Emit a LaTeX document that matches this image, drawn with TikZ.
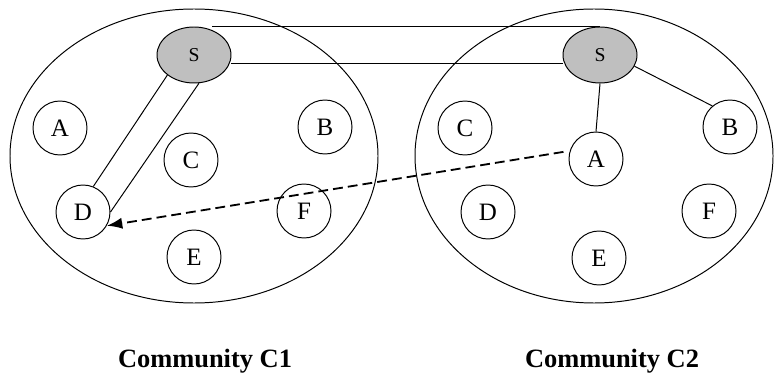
\documentclass[tikz,border=0pt]{standalone}
\usepackage{fontspec}
\setmainfont{Liberation Serif}
\usetikzlibrary{arrows,arrows.meta,shapes.geometric}

\begin{document}
\begin{tikzpicture}[
community/.style={draw,ellipse,line width=0.7pt,minimum height=7.35cm,inner sep=0pt},
member/.style={draw,circle,minimum size=1.35cm,inner sep=0pt,line width=0.7pt,font=\fontsize{17.8}{20}\selectfont},
seed/.style={draw,ellipse,fill=gray!50,minimum width=1.85cm,minimum height=1.4cm,inner sep=0pt,line width=0.7pt,font=\fontsize{14}{16}\selectfont},
link/.style={line width=0.7pt},
jump/.style={-{Latex[length=11pt,width=8pt]},dash pattern=on 7pt off 3.6pt,line width=1.3pt},
caption/.style={anchor=base,font=\fontsize{18.8}{22}\selectfont\bfseries} ]

\useasboundingbox (0,0) rectangle (19.35,9.35);

\node[community,minimum width=9.2cm](G1) at (4.85,5.45) {};

\node[community,minimum width=8.95cm](G2) at (14.85,5.45) {};

\node[seed](S1) at (4.85,7.975) {S};

\node[member](A1) at (1.5,6.15) {A};

\node[member](B1) at (8.125,6.175) {B};

\node[member](C1) at (4.775,5.35) {C};

\node[member](D1) at (2.075,4.05) {D};

\node[member](E1) at (4.85,2.925) {E};

\node[member](F1) at (7.6,4.075) {F};

\node[seed](S2) at (15.0,7.975) {S};

\node[member](A2) at (14.9,5.375) {A};

\node[member](B2) at (18.25,6.175) {B};

\node[member](C2) at (11.625,6.15) {C};

\node[member](D2) at (12.2,4.05) {D};

\node[member](E2) at (14.975,2.9) {E};

\node[member](F2) at (17.725,4.075) {F};

\node[caption](L1) at (5.125,0.175) {Community C1};

\node[caption](L2) at (15.3,0.175) {Community C2};

\draw[link] ([xshift=0.45cm]S1.north) -- (S2.north);

\draw[link] ([yshift=-0.2cm]S1.east) -- ([yshift=-0.2cm]S2.west);

\draw[link] (S1.217) -- (D1.68);

\draw[link] (S1.280) -- (D1.east);

\draw[link] (S2.south) -- (A2.north);

\draw[link] (S2.-18) -- (B2.130);

\draw[jump] ([xshift=-0.15cm]A2.165) -- (D1.-30);

\end{tikzpicture}
\end{document}
